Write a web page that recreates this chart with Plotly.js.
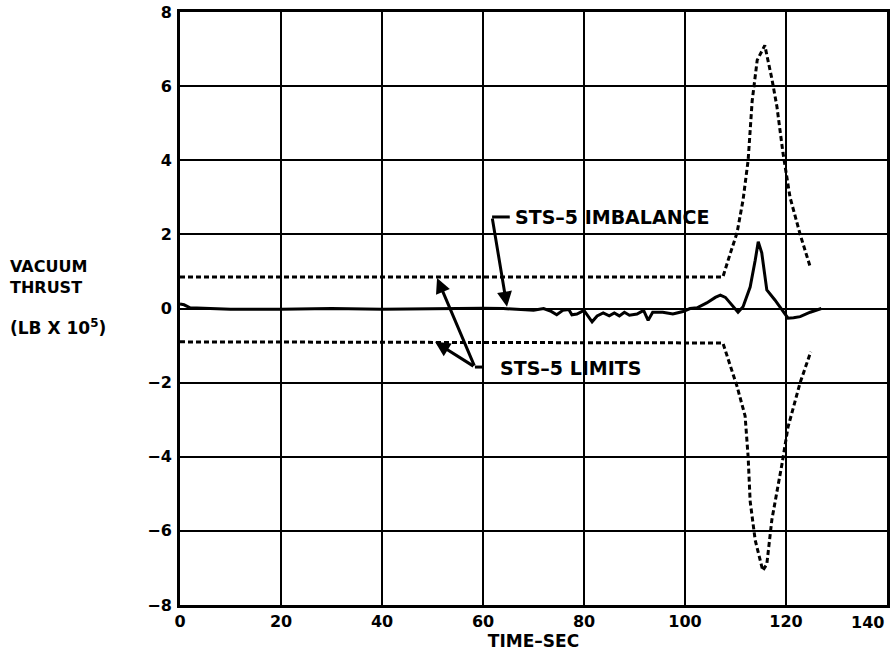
<!DOCTYPE html>
<html>
<head>
<meta charset="utf-8">
<script src="https://cdn.plot.ly/plotly-3.0.1.min.js"></script>
<style>html,body{margin:0;padding:0;background:#fff;}#chart{width:891px;height:653px;}</style>
</head>
<body>
<div id="chart"></div>
<script>
// ---- data ----
const xTicks = [0, 20, 40, 60, 80, 100, 120, 140];
const xTickLabels = ["0", "20", "40", "60", "80", "100", "120", "140"];
const yTicks = [-8, -6, -4, -2, 0, 2, 4, 6, 8];
const yTickLabels = ["\u22128", "\u22126", "\u22124", "\u22122", "0", "2", "4", "6", "8"];

const imbalanceTime = [0, 0.8, 2, 5, 10, 20, 30, 40, 50, 60, 64, 68, 70, 72, 73.5, 74.6, 75.8, 77, 77.6, 78.6, 80, 81.6, 82.6, 83.8, 85, 86, 87, 88, 89, 90.5, 91.8, 92.7, 93.6, 95.6, 97.6, 99.6, 101, 102.4, 104.3, 106, 107, 108, 109, 110.5, 111.5, 112.9, 113.9, 114.5, 115.2, 116.2, 117.8, 119.2, 120.4, 121.5, 122.8, 124.8, 127];
const imbalanceThrust = [0.12, 0.1, 0.02, 0, -0.02, -0.02, 0, -0.02, 0, 0.01, 0, -0.02, -0.05, 0, -0.08, -0.17, -0.05, -0.03, -0.17, -0.15, -0.05, -0.36, -0.2, -0.12, -0.2, -0.12, -0.2, -0.1, -0.18, -0.15, -0.05, -0.32, -0.1, -0.1, -0.15, -0.08, 0, 0.02, 0.15, 0.3, 0.36, 0.3, 0.15, -0.1, 0.05, 0.58, 1.3, 1.8, 1.5, 0.5, 0.23, -0.04, -0.26, -0.25, -0.22, -0.1, 0];

const upperLimitTime = [0, 107.5, 109, 110.3, 111.5, 112.5, 113.3, 114.3, 115.8, 117.2, 118.2, 119.4, 120.8, 122.8, 124.8];
const upperLimitThrust = [0.85, 0.85, 1.5, 2.04, 2.93, 4.0, 5.6, 6.7, 7.1, 6.2, 5.45, 4.2, 3.0, 2.0, 1.12];

const lowerLimitTime = [0, 107.5, 110.3, 111.9, 112.5, 112.9, 113.9, 115.4, 116.2, 117.2, 119.2, 120.4, 122.8, 124.9];
const lowerLimitThrust = [-0.9, -0.93, -2.1, -2.9, -4.0, -5.2, -6.25, -7.07, -6.9, -5.7, -4.2, -3.2, -2.0, -1.17];

// ---- styling ----
const FONT = "DejaVu Sans";
const ink = "#000";
const dashed = {color: ink, width: 3, dash: "5px,3px"};

const traces = [
  {x: upperLimitTime, y: upperLimitThrust, mode: "lines", line: dashed, name: "STS-5 limits (upper)", hoverinfo: "x+y"},
  {x: lowerLimitTime, y: lowerLimitThrust, mode: "lines", line: dashed, name: "STS-5 limits (lower)", hoverinfo: "x+y"},
  {x: imbalanceTime, y: imbalanceThrust, mode: "lines", line: {color: ink, width: 3}, name: "STS-5 imbalance", hoverinfo: "x+y"}
];

const tickFont = {family: FONT, size: 16, color: ink, weight: "bold"};
const axisCommon = {
  showgrid: true, gridcolor: ink, gridwidth: 2,
  showline: true, linecolor: ink, linewidth: 3, mirror: true,
  ticks: "", zeroline: false, tickfont: tickFont, fixedrange: true
};

// the last x tick label sits flush against the page edge in the reference,
// so it is drawn right-aligned at its tick instead of centred
const lastX = xTicks.length - 1;
const xTickTextShown = xTickLabels.map((t, i) => (i === lastX ? "" : t));

const labelFont = {family: FONT, size: 16, color: ink, weight: "bold"};
const calloutFont = {family: FONT, size: 19, color: ink, weight: "bold"};

const annotations = [
  // y-axis title block (horizontal text left of the plot)
  {xref: "paper", yref: "paper", x: -0.2433, y: 0.5536, xanchor: "left", yanchor: "middle", align: "left", text: "VACUUM<br>THRUST", showarrow: false, font: labelFont},
  {xref: "paper", yref: "paper", x: -0.2433, y: 0.4688, xanchor: "left", yanchor: "middle", text: "(LB X 10<sup>5</sup>)", showarrow: false, font: {family: FONT, size: 17, color: ink, weight: "bold"}},
  // last x tick label
  {xref: "x", yref: "paper", x: xTicks[lastX], y: 0, xanchor: "right", yanchor: "top", yshift: -6, xshift: -1, text: xTickLabels[lastX], showarrow: false, font: tickFont},
  // callout texts
  {xref: "x", yref: "y", x: 66.0, y: 2.47, xanchor: "left", yanchor: "middle", text: "STS\u20135 IMBALANCE", showarrow: false, font: calloutFont},
  {xref: "x", yref: "y", x: 63.0, y: -1.6, xanchor: "left", yanchor: "middle", text: "STS\u20135 LIMITS", showarrow: false, font: calloutFont},
  // arrows
  {xref: "x", yref: "y", axref: "x", ayref: "y", x: 64.75, y: 0.05, ax: 61.8, ay: 2.47, text: "", showarrow: true, arrowhead: 2, arrowsize: 1, arrowwidth: 3, arrowcolor: ink},
  {xref: "x", yref: "y", axref: "x", ayref: "y", x: 50.9, y: 0.82, ax: 58.4, ay: -1.58, text: "", showarrow: true, arrowhead: 2, arrowsize: 1, arrowwidth: 3, arrowcolor: ink},
  {xref: "x", yref: "y", axref: "x", ayref: "y", x: 50.5, y: -0.9, ax: 58.4, ay: -1.58, text: "", showarrow: true, arrowhead: 2, arrowsize: 1, arrowwidth: 3, arrowcolor: ink}
];

const shapes = [
  {type: "line", xref: "x", yref: "y", x0: 61.8, y0: 2.47, x1: 65.3, y1: 2.47, line: {color: ink, width: 3}},
  {type: "line", xref: "x", yref: "y", x0: 58.4, y0: -1.58, x1: 60.0, y1: -1.58, line: {color: ink, width: 3}}
];

const layout = {
  width: 891, height: 653,
  margin: {l: 180, r: 4, t: 12, b: 48, pad: 0},
  paper_bgcolor: "#fff", plot_bgcolor: "#fff",
  showlegend: false,
  font: {family: FONT, color: ink},
  xaxis: Object.assign({}, axisCommon, {
    range: [0, 140], tickvals: xTicks, ticktext: xTickTextShown,
    title: {text: "TIME\u2013SEC", font: {family: FONT, size: 17, color: ink, weight: "bold"}, standoff: 5}
  }),
  yaxis: Object.assign({}, axisCommon, {
    range: [-8, 8], tickvals: yTicks, ticktext: yTickLabels, ticklabelstandoff: 2
  }),
  annotations: annotations,
  shapes: shapes
};

Plotly.newPlot("chart", traces, layout, {staticPlot: true, displayModeBar: false});
</script>
</body>
</html>
